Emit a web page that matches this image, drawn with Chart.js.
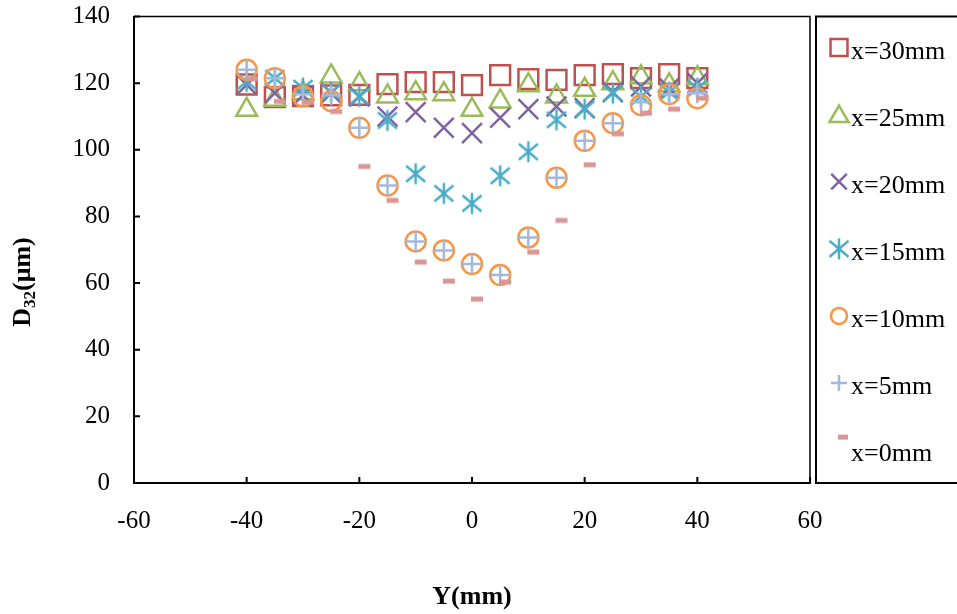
<!DOCTYPE html>
<html>
<head>
<meta charset="utf-8">
<script src="https://cdn.jsdelivr.net/npm/chart.js@4/dist/chart.umd.min.js"></script>
<style>
  body { margin: 0; background: #fff; }
  canvas { display: block; }
</style>
</head>
<body>
<canvas id="chart" width="957" height="614"></canvas>
<script>
// radial position Y (mm)
const yPositions = [-40, -35, -30, -25, -20, -15, -10, -5, 0, 5, 10, 15, 20, 25, 30, 35, 40];

// D32 (um) for each axial station
const d30 = [119.6, 115.8, 116.1, 116.3, 116.5, 119.7, 120.3, 120.3, 119.4, 122.4, 121.2, 121.0, 122.4, 122.7, 121.5, 122.7, 121.5];
const d25 = [112.0, 115.0, 117.0, 122.0, 119.7, 116.0, 117.0, 116.7, 112.0, 114.5, 119.4, 116.0, 118.0, 120.0, 121.8, 119.4, 121.5];
const d20 = [119.5, 117.0, 116.4, 117.0, 116.0, 110.0, 111.3, 106.6, 105.0, 109.6, 112.2, 113.0, 112.5, 117.3, 119.0, 118.5, 120.0];
const d15 = [120.5, 121.5, 118.5, 117.3, 116.0, 108.8, 92.8, 86.9, 83.9, 92.2, 99.4, 109.0, 112.2, 117.0, 116.0, 117.3, 118.5];
const d10 = [124.0, 121.5, 116.0, 114.6, 106.6, 89.3, 72.5, 69.8, 65.7, 62.4, 73.7, 91.6, 102.7, 108.0, 113.4, 116.7, 115.5];
const d5  = [124.0, 121.5, 116.7, 116.4, 106.6, 89.3, 72.5, 69.8, 65.7, 62.4, 73.7, 91.6, 102.7, 108.0, 114.3, 116.7, 117.0];
const d0  = [121.3, 114.5, 114.3, 111.5, 95.0, 84.8, 66.3, 60.6, 55.2, 60.3, 69.3, 78.8, 95.5, 104.8, 111.0, 112.2, 115.5];

const seriesNames = ['x=30mm', 'x=25mm', 'x=20mm', 'x=15mm', 'x=10mm', 'x=5mm', 'x=0mm'];
const xTicks = [-60, -40, -20, 0, 20, 40, 60];
const yTicks = [0, 20, 40, 60, 80, 100, 120, 140];

const FONT = '"Liberation Serif", "Times New Roman", serif';

// excel-like asterisk and dash markers
function makeAsterisk(color) {
    let c = document.createElement('canvas');
    c.width = 24; c.height = 24;
    let g = c.getContext('2d');
    g.strokeStyle = color;
    g.lineWidth = 2.5;
    g.beginPath();
    g.moveTo(12, 1.5); g.lineTo(12, 22.5);
    g.moveTo(2.5, 4); g.lineTo(21.5, 20);
    g.moveTo(21.5, 4); g.lineTo(2.5, 20);
    g.stroke();
    return c;
}

function makeDash(color) {
    let c = document.createElement('canvas');
    c.width = 34; c.height = 8;
    let g = c.getContext('2d');
    g.fillStyle = color;
    g.fillRect(16, 1.5, 12, 5);
    return c;
}

const asterisk = makeAsterisk('#4BACC6');
const dash = makeDash('#D99694');

function toPoints(values) {
    return values.map((v, i) => ({x: yPositions[i], y: v}));
}

const seriesData = [d30, d25, d20, d15, d10, d5, d0];
const seriesColors = ['#C0504D', '#9BBB59', '#8064A2', '#4BACC6', '#F79646', '#A3B8DA', '#D99694'];
const seriesStyles = ['rect', 'triangle', 'crossRot', asterisk, 'circle', 'cross', dash];
const seriesRadius = [14, 12, 14, 12, 10, 10, 6];

const datasets = seriesData.map((values, i) => ({
    label: seriesNames[i],
    data: toPoints(values),
    showLine: false,
    pointStyle: seriesStyles[i],
    pointRadius: seriesRadius[i],
    pointBorderWidth: 2.5,
    pointBorderColor: seriesColors[i],
    pointBackgroundColor: 'rgba(0,0,0,0)',
    order: seriesData.length - i
}));

const frame = {
    id: 'frame',
    afterDraw(chart) {
        const ctx = chart.ctx;
        const a = chart.chartArea;
        const xs = chart.scales.x, ys = chart.scales.y;
        ctx.save();
        ctx.strokeStyle = '#000';

        // top and right edges of the plot
        ctx.lineWidth = 1.5;
        ctx.beginPath();
        ctx.moveTo(a.left, a.top);
        ctx.lineTo(a.right, a.top);
        ctx.lineTo(a.right, a.bottom);
        ctx.stroke();

        // inside tick marks
        ctx.lineWidth = 2;
        ctx.beginPath();
        xTicks.forEach(v => {
            let px = xs.getPixelForValue(v);
            ctx.moveTo(px, a.bottom);
            ctx.lineTo(px, a.bottom - 6);
        });
        yTicks.forEach(v => {
            let py = ys.getPixelForValue(v);
            ctx.moveTo(a.left, py);
            ctx.lineTo(a.left + 6, py);
        });
        ctx.stroke();

        // axis titles
        ctx.fillStyle = '#000';
        ctx.font = 'bold 26px ' + FONT;
        ctx.textAlign = 'center';
        ctx.textBaseline = 'alphabetic';
        ctx.fillText('Y(mm)', (a.left + a.right) / 2, 604);

        ctx.translate(30, 282);
        ctx.rotate(-Math.PI / 2);
        ctx.textAlign = 'left';
        let big = 'bold 26px ' + FONT, small = 'bold 17px ' + FONT;
        ctx.font = big;
        let wD = ctx.measureText('D').width;
        let wRest = ctx.measureText('(\u03bcm)').width;
        ctx.font = small;
        let wSub = ctx.measureText('32').width;
        let x0 = -(wD + wSub + wRest) / 2;
        ctx.font = big;
        ctx.fillText('D', x0, 0);
        ctx.font = small;
        ctx.fillText('32', x0 + wD, 5);
        ctx.font = big;
        ctx.fillText('(\u03bcm)', x0 + wD + wSub, 0);
        ctx.restore();

        // legend box
        ctx.save();
        ctx.strokeStyle = '#000';
        ctx.lineWidth = 2;
        ctx.strokeRect(816, a.top, 200, a.bottom - a.top);
        ctx.font = '26px ' + FONT;
        ctx.fillStyle = '#000';
        ctx.textAlign = 'left';
        ctx.textBaseline = 'alphabetic';
        seriesNames.forEach((name, i) => {
            let ty = 51.5 + i * 67.1;
            ctx.fillText(name, 851, ty + 7);
            ctx.strokeStyle = seriesColors[i];
            ctx.fillStyle = 'rgba(0,0,0,0)';
            ctx.lineWidth = 2.5;
            if (i === 6) {
                ctx.fillStyle = seriesColors[i];
                ctx.fillRect(838, ty - 19.5, 10, 5);
            } else {
                let r = [12, 11, 11, 10, 8, 8][i];
                let my = ty - 4 + (i === 1 ? 2 : 0);
                Chart.helpers.drawPoint(ctx, {pointStyle: seriesStyles[i], radius: r, rotation: 0, borderWidth: 2.5}, 839, my);
            }
            ctx.fillStyle = '#000';
        });
        ctx.restore();
    }
};

new Chart(document.getElementById('chart'), {
    type: 'scatter',
    data: {datasets: datasets},
    options: {
        responsive: false,
        animation: false,
        events: [],
        layout: {padding: {left: 0, top: 14, right: 147, bottom: 0}},
        plugins: {legend: {display: false}, tooltip: {enabled: false}},
        scales: {
            x: {
                type: 'linear', min: -60, max: 60,
                afterFit: s => { s.height = 131; s.paddingLeft = 0; s.paddingRight = 0; },
                afterBuildTicks: s => { s.ticks = xTicks.map(v => ({value: v})); },
                ticks: {color: '#000', font: {family: FONT, size: 25}, padding: 23, maxRotation: 0},
                grid: {drawOnChartArea: false, drawTicks: false},
                border: {color: '#000', width: 2}
            },
            y: {
                min: 0, max: 140,
                afterFit: s => { s.width = 134; s.paddingTop = 0; s.paddingBottom = 0; },
                afterBuildTicks: s => { s.ticks = yTicks.map(v => ({value: v})); },
                ticks: {color: '#000', font: {family: FONT, size: 25}, padding: 24},
                grid: {drawOnChartArea: false, drawTicks: false},
                border: {color: '#000', width: 2}
            }
        }
    },
    plugins: [frame]
});
</script>
</body>
</html>
